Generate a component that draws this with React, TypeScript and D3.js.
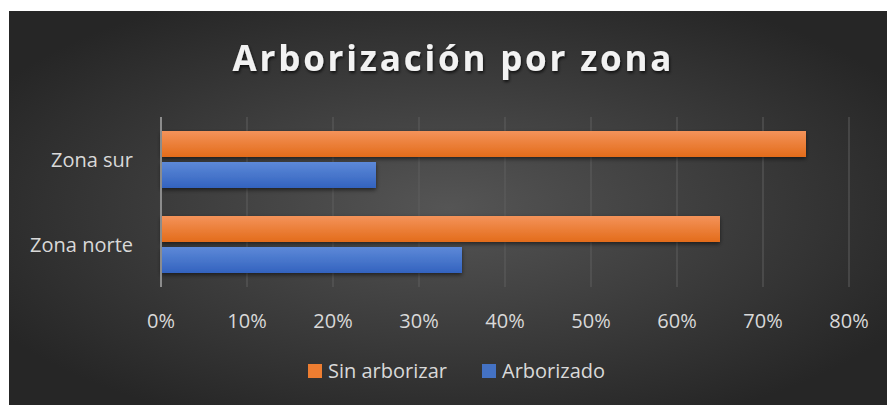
import React from "react";
import * as d3 from "d3";

const categories = ["Zona sur", "Zona norte"];
const seriesNames = ["Sin arborizar", "Arborizado"];
const sinArborizar = [0.75, 0.65];
const arborizado = [0.25, 0.35];
const ticks = [0, 0.1, 0.2, 0.3, 0.4, 0.5, 0.6, 0.7, 0.8];
const title = "Arborización por zona";

const W = 887;
const H = 405;
const FONT = "'Open Sans', 'Noto Sans', sans-serif";

export default function App() {
  const x = d3.scaleLinear().domain([0, 0.8]).range([161, 849]);
  const y = d3.scaleBand().domain(categories).range([117, 287]).paddingInner(0).paddingOuter(0);
  const inner = d3.scaleBand().domain(seriesNames).range([0, 85]).paddingInner(5 / 31).paddingOuter(14 / 31);
  const series = [
    { name: seriesNames[0], values: sinArborizar, fill: "url(#gOrange)", solid: "#ED7D31" },
    { name: seriesNames[1], values: arborizado, fill: "url(#gBlue)", solid: "#4472C4" },
  ];
  const pct = d3.format(".0%");

  return (
    <svg width={W} height={H} style={{ display: "block", position: "absolute", left: 0, top: 0 }}>
      <defs>
        <radialGradient id="bg" cx="50%" cy="50%" r="60%">
          <stop offset="0%" stopColor="#555555" />
          <stop offset="100%" stopColor="#262626" />
        </radialGradient>
        <linearGradient id="gOrange" x1="0" y1="0" x2="0" y2="1">
          <stop offset="0%" stopColor="#F4935A" />
          <stop offset="100%" stopColor="#E36C1A" />
        </linearGradient>
        <linearGradient id="gBlue" x1="0" y1="0" x2="0" y2="1">
          <stop offset="0%" stopColor="#5D89D8" />
          <stop offset="100%" stopColor="#3363BF" />
        </linearGradient>
        <filter id="shadow" x="-5%" y="-30%" width="110%" height="180%">
          <feDropShadow dx="0" dy="2" stdDeviation="2" floodColor="#000" floodOpacity="0.55" />
        </filter>
        <filter id="tshadow" x="-5%" y="-30%" width="110%" height="180%">
          <feDropShadow dx="1" dy="2" stdDeviation="1.5" floodColor="#000" floodOpacity="0.7" />
        </filter>
      </defs>
      <rect x={0} y={0} width={W} height={H} fill="#ffffff" />
      <rect x={9} y={11} width={W - 9} height={H - 11} fill="url(#bg)" />

      <text
        x={452}
        y={71}
        textAnchor="middle"
        fill="#f2f2f2"
        fontFamily={FONT}
        fontWeight={700}
        fontSize={35}
        textLength={439}
        lengthAdjust="spacing"
        filter="url(#tshadow)"
      >
        {title}
      </text>

      {ticks.slice(1).map((t) => (
        <line key={t} x1={x(t)} x2={x(t)} y1={117} y2={287} stroke="#5e5e5e" strokeWidth={1} />
      ))}
      {ticks.map((t) => (
        <text key={"l" + t} x={x(t)} y={328} textAnchor="middle" fill="#d9d9d9" fontFamily={FONT} fontSize={20}>
          {pct(t)}
        </text>
      ))}

      {series.map((s) =>
        categories.map((c, i) => (
          <rect
            key={s.name + c}
            x={x(0)}
            y={(y(c) as number) + (inner(s.name) as number)}
            width={x(s.values[i]) - x(0)}
            height={inner.bandwidth()}
            fill={s.fill}
            filter="url(#shadow)"
          />
        ))
      )}
      <line x1={x(0)} x2={x(0)} y1={117} y2={287} stroke="#8c8c8c" strokeWidth={2} />

      {categories.map((c) => (
        <text
          key={c}
          x={133}
          y={(y(c) as number) + y.bandwidth() / 2 + 7}
          textAnchor="end"
          fill="#d9d9d9"
          fontFamily={FONT}
          fontSize={20}
        >
          {c}
        </text>
      ))}

      <g>
        <rect x={308} y={364} width={14} height={14} fill={series[0].solid} />
        <text x={328} y={378} fill="#d9d9d9" fontFamily={FONT} fontSize={20}>
          {seriesNames[0]}
        </text>
        <rect x={482} y={364} width={14} height={14} fill={series[1].solid} />
        <text x={502} y={378} fill="#d9d9d9" fontFamily={FONT} fontSize={20}>
          {seriesNames[1]}
        </text>
      </g>
    </svg>
  );
}
